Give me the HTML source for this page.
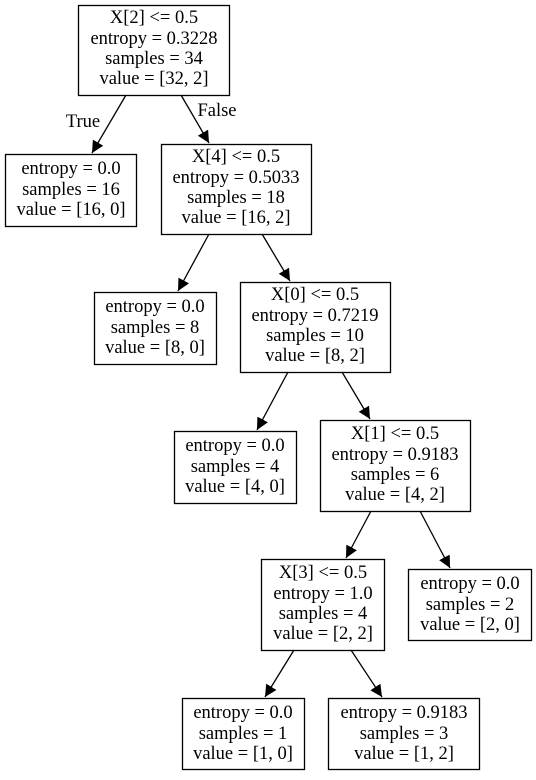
<!DOCTYPE html>
<html><head><style>body{margin:0;background:#fff}</style></head><body>
<svg width="536" height="775" xmlns="http://www.w3.org/2000/svg" font-family="Liberation Serif, serif" font-size="18.5">
<defs><marker id="a" markerWidth="12" markerHeight="12" refX="12" refY="6" orient="auto" markerUnits="userSpaceOnUse"><path d="M0,0 L12,6 L0,12 z" fill="#000"/></marker></defs>
<g fill="none" stroke="#000" stroke-width="1.3">
<rect x="78.5" y="5.5" width="151" height="90"/>
<rect x="5.5" y="154.5" width="131" height="72"/>
<rect x="161.5" y="144.5" width="150" height="90"/>
<rect x="94.5" y="292.5" width="122" height="72"/>
<rect x="240.5" y="282.5" width="150" height="90"/>
<rect x="174.5" y="431.5" width="122" height="72"/>
<rect x="320.5" y="420.5" width="150" height="91"/>
<rect x="261.5" y="559.5" width="123" height="91"/>
<rect x="408.5" y="569.5" width="123" height="71"/>
<rect x="182.5" y="698.5" width="122" height="71"/>
<rect x="328.5" y="698.5" width="151" height="71"/>
</g>
<g stroke="#000" stroke-width="1.3" marker-end="url(#a)">
<line x1="126" y1="95" x2="92" y2="153"/>
<line x1="181" y1="95" x2="209" y2="143"/>
<line x1="209" y1="234" x2="178" y2="291"/>
<line x1="262" y1="234" x2="290" y2="281"/>
<line x1="288" y1="372" x2="257" y2="430"/>
<line x1="342" y1="372" x2="370" y2="419"/>
<line x1="371" y1="511" x2="346" y2="558"/>
<line x1="420" y1="511" x2="450" y2="568"/>
<line x1="294" y1="650" x2="265" y2="697"/>
<line x1="351" y1="650" x2="382" y2="697"/>
</g>
<g text-anchor="middle" fill="#000">
<text x="83" y="127">True</text>
<text x="217" y="116">False</text>
<text x="154" y="23">X[2] &lt;= 0.5</text><text x="154" y="44">entropy = 0.3228</text><text x="154" y="64">samples = 34</text><text x="154" y="84">value = [32, 2]</text>
<text x="71" y="174">entropy = 0.0</text><text x="71" y="195">samples = 16</text><text x="71" y="215">value = [16, 0]</text>
<text x="236" y="162">X[4] &lt;= 0.5</text><text x="236" y="183">entropy = 0.5033</text><text x="236" y="203">samples = 18</text><text x="236" y="223">value = [16, 2]</text>
<text x="155" y="312">entropy = 0.0</text><text x="155" y="333">samples = 8</text><text x="155" y="353">value = [8, 0]</text>
<text x="315" y="300">X[0] &lt;= 0.5</text><text x="315" y="321">entropy = 0.7219</text><text x="315" y="341">samples = 10</text><text x="315" y="361">value = [8, 2]</text>
<text x="235" y="451">entropy = 0.0</text><text x="235" y="472">samples = 4</text><text x="235" y="492">value = [4, 0]</text>
<text x="395" y="439">X[1] &lt;= 0.5</text><text x="395" y="460">entropy = 0.9183</text><text x="395" y="480">samples = 6</text><text x="395" y="500">value = [4, 2]</text>
<text x="323" y="578">X[3] &lt;= 0.5</text><text x="323" y="599">entropy = 1.0</text><text x="323" y="619">samples = 4</text><text x="323" y="639">value = [2, 2]</text>
<text x="470" y="589">entropy = 0.0</text><text x="470" y="610">samples = 2</text><text x="470" y="630">value = [2, 0]</text>
<text x="243" y="718">entropy = 0.0</text><text x="243" y="739">samples = 1</text><text x="243" y="759">value = [1, 0]</text>
<text x="404" y="718">entropy = 0.9183</text><text x="404" y="739">samples = 3</text><text x="404" y="759">value = [1, 2]</text>
</g>
</svg>
</body></html>
